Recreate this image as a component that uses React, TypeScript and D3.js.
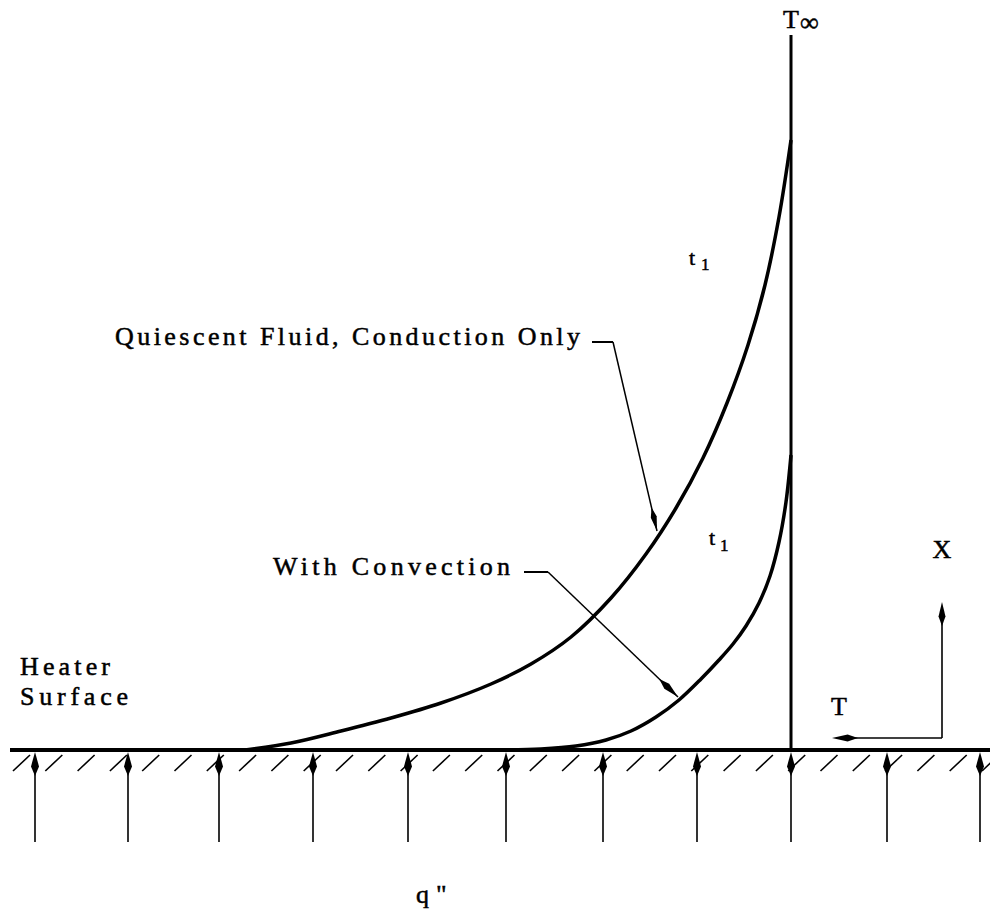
import React from "react";
import * as d3 from "d3";

const width = 990;
const height = 919;

// drawing coordinates: x = offset from the T-infinity line, y = height above the heater surface
const conductionProfile: [number, number][] = [
  [-546, 0], [-500, 7], [-450, 19], [-400, 32], [-350, 47], [-300, 66],
  [-260, 86], [-220, 113], [-180, 152], [-145, 196], [-115, 242],
  [-88, 292], [-64, 347], [-43, 405], [-26, 465], [-12, 533], [0, 610],
];
const convectionProfile: [number, number][] = [
  [-286, 0], [-250, 1], [-215, 4], [-185, 10], [-160, 19], [-135, 33],
  [-112, 50], [-90, 71], [-72, 90], [-58, 106], [-45, 124], [-32, 147],
  [-21, 174], [-12, 208], [-5, 248], [0, 295],
];
const fluxArrowX = [-756, -663, -572, -478, -383, -285, -188, -94, 0, 96, 189];

const x = d3.scaleLinear().domain([-791, 199]).range([0, width]);
const y = d3.scaleLinear().domain([0, 750]).range([750, 0]);

const line = d3
  .line<[number, number]>()
  .x((d) => x(d[0]))
  .y((d) => y(d[1]))
  .curve(d3.curveCatmullRom.alpha(0.5));

// slim tear-drop arrow head pointing from (fx,fy) towards the tip (tx,ty)
function arrowHead(tx: number, ty: number, fx: number, fy: number, len = 22, w = 7) {
  const dx = tx - fx;
  const dy = ty - fy;
  const l = Math.hypot(dx, dy);
  const ux = dx / l;
  const uy = dy / l;
  const nx = -uy;
  const ny = ux;
  const mx = tx - ux * len * 0.6;
  const my = ty - uy * len * 0.6;
  const bx = tx - ux * len;
  const by = ty - uy * len;
  return `M${tx},${ty}L${mx + (nx * w) / 2},${my + (ny * w) / 2}L${bx},${by}L${mx - (nx * w) / 2},${my - (ny * w) / 2}Z`;
}

const font = "'Liberation Serif', 'DejaVu Serif', serif";

export default function App() {
  const surfaceY = y(0);
  const hatches = d3.range(13, 990, 32.3);

  // leader lines (label -> curve)
  const condLeader = { x0: 592, y0: 342, x1: 613, tx: 657, ty: 531 };
  const convLeader = { x0: 524, y0: 572, x1: 548, tx: 678, ty: 697 };

  // X / T direction arrows
  const cornerX = x(151);
  const cornerY = y(12);

  return (
    <div style={{ position: "absolute", left: 0, top: 0 }}>
      <svg width={width} height={height} style={{ display: "block", background: "#fff" }}>
        {/* heater surface */}
        <line x1={10} x2={990} y1={surfaceY} y2={surfaceY} stroke="#000" strokeWidth={4} />
        {hatches.map((hx, i) => (
          <line key={i} x1={hx} y1={surfaceY + 21} x2={hx + 17} y2={surfaceY + 5} stroke="#000" strokeWidth={1.6} />
        ))}

        {/* heat flux arrows */}
        {fluxArrowX.map((fx, i) => (
          <g key={i}>
            <line x1={x(fx)} x2={x(fx)} y1={y(-92)} y2={y(-20)} stroke="#000" strokeWidth={1.6} />
            <path d={arrowHead(x(fx), y(-2), x(fx), y(-40), 24, 8)} fill="#000" />
          </g>
        ))}

        {/* T-infinity line */}
        <line x1={x(0)} x2={x(0)} y1={y(715)} y2={surfaceY} stroke="#000" strokeWidth={3} />

        {/* temperature profiles */}
        <path d={line(conductionProfile) ?? ""} fill="none" stroke="#000" strokeWidth={3.5} />
        <path d={line(convectionProfile) ?? ""} fill="none" stroke="#000" strokeWidth={3.5} />

        {/* leaders */}
        <line x1={condLeader.x0} x2={condLeader.x1} y1={condLeader.y0} y2={condLeader.y0} stroke="#000" strokeWidth={2} />
        <line x1={condLeader.x1} y1={condLeader.y0} x2={condLeader.tx} y2={condLeader.ty} stroke="#000" strokeWidth={1.5} />
        <path d={arrowHead(condLeader.tx, condLeader.ty, condLeader.x1, condLeader.y0, 24, 6)} fill="#000" />

        <line x1={convLeader.x0} x2={convLeader.x1} y1={convLeader.y0} y2={convLeader.y0} stroke="#000" strokeWidth={2} />
        <line x1={convLeader.x1} y1={convLeader.y0} x2={convLeader.tx} y2={convLeader.ty} stroke="#000" strokeWidth={1.5} />
        <path d={arrowHead(convLeader.tx, convLeader.ty, convLeader.x1, convLeader.y0, 26, 7)} fill="#000" />

        {/* coordinate arrows */}
        <line x1={cornerX} x2={cornerX} y1={cornerY} y2={y(130)} stroke="#000" strokeWidth={1.6} />
        <path d={arrowHead(cornerX, y(148), cornerX, cornerY, 24, 7)} fill="#000" />
        <line x1={cornerX} x2={x(55)} y1={cornerY} y2={cornerY} stroke="#000" strokeWidth={1.6} />
        <path d={arrowHead(x(41), cornerY, cornerX, cornerY, 26, 7)} fill="#000" />

        {/* labels */}
        <g fontFamily={font} fill="#000" stroke="#000" strokeWidth={0.5}>
          <text x={783} y={28} fontSize={26}>T</text>
          <text x={800} y={31} fontSize={26}>∞</text>

          <text x={689} y={265} fontSize={22}>t</text>
          <text x={701} y={270} fontSize={17}>1</text>
          <text x={709} y={545} fontSize={22}>t</text>
          <text x={720} y={551} fontSize={17}>1</text>

          <text x={115} y={345} fontSize={26} textLength={465} lengthAdjust="spacing">
            Quiescent Fluid, Conduction Only
          </text>
          <text x={273} y={575} fontSize={26} textLength={237} lengthAdjust="spacing">
            With Convection
          </text>
          <text x={20} y={675} fontSize={26} textLength={90} lengthAdjust="spacing">Heater</text>
          <text x={20} y={705} fontSize={26} textLength={108} lengthAdjust="spacing">Surface</text>

          <text x={942} y={558} fontSize={26} textAnchor="middle">X</text>
          <text x={839} y={715} fontSize={26} textAnchor="middle">T</text>

          <text x={416} y={903} fontSize={26}>q</text>
          <text x={436} y={903} fontSize={26}>"</text>
        </g>
      </svg>
    </div>
  );
}
